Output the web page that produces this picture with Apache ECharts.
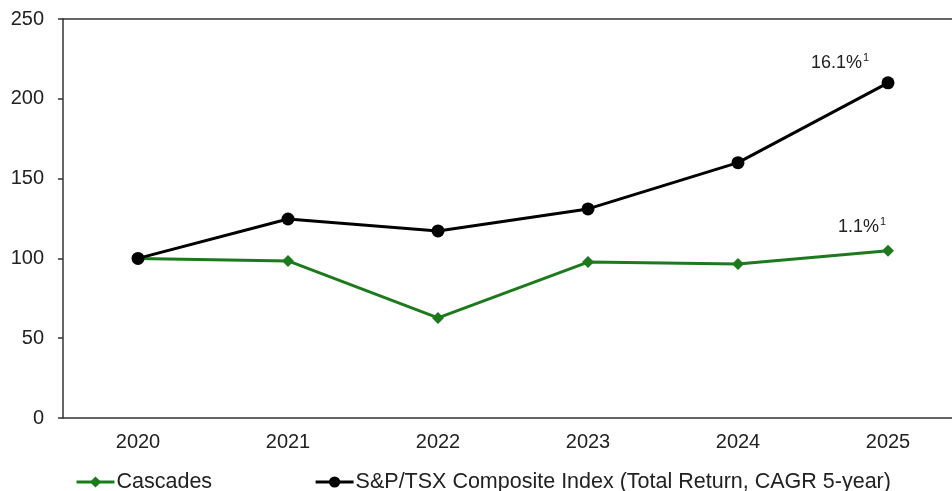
<!DOCTYPE html>
<html>
<head>
<meta charset="utf-8">
<script src="https://cdn.jsdelivr.net/npm/echarts@6/dist/echarts.min.js"></script>
<style>html,body{margin:0;padding:0;background:#fff;}#c{width:952px;height:491px;}</style>
</head>
<body>
<div id="c"></div>
<script>
const years = ['2020', '2021', '2022', '2023', '2024', '2025'];
const cascades = [100, 98.4, 62.7, 97.7, 96.5, 104.8];
const sptsx = [100, 124.7, 117.2, 131, 160, 210];
const cascadesLabel = '1.1%';
const sptsxLabel = '16.1%';
const yTicks = [0, 50, 100, 150, 200, 250];

const font = 'Liberation Sans, Arial, sans-serif';
const textColor = '#222';

function withEndLabel(values, text, offset) {
  return values.map((v, i) => i === values.length - 1 ? {
    value: v,
    label: {
      show: true,
      position: 'inside',
      offset: offset,
      formatter: text + '{sup|1}',
      color: textColor,
      fontFamily: font,
      fontSize: 18,
      rich: { sup: { fontSize: 11, color: textColor, fontFamily: font, padding: [0, 0, 9, 1] } }
    }
  } : v);
}

const chart = echarts.init(document.getElementById('c'));
chart.setOption({
  animation: false,
  backgroundColor: '#fff',
  grid: { left: 63, width: 900, top: 19, height: 399, containLabel: false, outerBoundsMode: 'none' },
  legend: {
    left: 70, top: 466,
    itemWidth: 38, itemHeight: 14, itemGap: 102,
    lineStyle: { width: 3 },
    textStyle: { fontFamily: font, fontSize: 21.5, color: textColor, padding: [0, 0, 0, -3] },
    data: ['Cascades', 'S&P/TSX Composite Index (Total Return, CAGR 5-year)']
  },
  xAxis: [{
    type: 'category',
    data: years,
    boundaryGap: true,
    axisLine: { lineStyle: { color: '#333', width: 1.5 } },
    axisTick: { alignWithLabel: true, length: 5, lineStyle: { color: '#333', width: 1.5 } },
    axisLabel: { fontFamily: font, fontSize: 20, color: textColor, margin: 14 },
    splitLine: { show: false }
  }, {
    type: 'category',
    data: years,
    position: 'top',
    axisLine: { show: true, lineStyle: { color: '#333', width: 1.5 } },
    axisTick: { show: false },
    axisLabel: { show: false }
  }],
  yAxis: {
    type: 'value',
    min: yTicks[0], max: yTicks[yTicks.length - 1], interval: 50,
    axisLine: { show: true, lineStyle: { color: '#333', width: 1.5 } },
    axisTick: { show: true, length: 5, lineStyle: { color: '#333', width: 1.5 } },
    axisLabel: { fontFamily: font, fontSize: 20, color: textColor, margin: 19 },
    splitLine: { show: false }
  },
  series: [{
    name: 'Cascades',
    type: 'line',
    data: withEndLabel(cascades, cascadesLabel, [-26, -24]),
    symbol: 'diamond', symbolSize: 12,
    itemStyle: { color: '#1c7a1c' },
    lineStyle: { color: '#1c7a1c', width: 3 },
    z: 2
  }, {
    name: 'S&P/TSX Composite Index (Total Return, CAGR 5-year)',
    type: 'line',
    data: withEndLabel(sptsx, sptsxLabel, [-48, -20]),
    symbol: 'circle', symbolSize: 13,
    itemStyle: { color: '#000' },
    lineStyle: { color: '#000', width: 3 },
    z: 3
  }]
});
</script>
</body>
</html>
